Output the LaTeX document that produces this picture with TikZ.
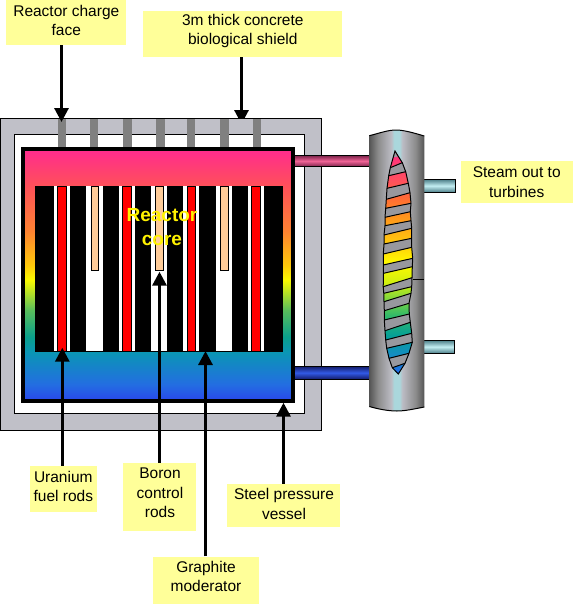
\documentclass[tikz,border=0pt]{standalone}
\usepackage{fontspec}
\setmainfont{Liberation Sans}
\usetikzlibrary{arrows.meta}
\definecolor{labelbg}{RGB}{255,255,153}
\definecolor{shieldgray}{RGB}{192,192,200}
\definecolor{tubegray}{RGB}{128,128,128}
\definecolor{bandgray}{RGB}{152,152,158}
\definecolor{rodpeach}{RGB}{255,204,153}
\definecolor{pinkedge}{RGB}{125,35,75}
\definecolor{pinkmid}{RGB}{240,100,150}
\definecolor{blueedge}{RGB}{20,30,110}
\definecolor{bluemid}{RGB}{50,90,230}
\definecolor{cyanedge}{RGB}{80,130,140}
\definecolor{cyanmid}{RGB}{195,238,242}
% vertical shadings: path box spans 25bp (bottom) .. 75bp (top)
\pgfdeclareverticalshading{vesselgrad}{100bp}{
 color(0bp)=(rgb,255:red,40;green,75;blue,235);
 color(25bp)=(rgb,255:red,40;green,75;blue,235);
 color(28bp)=(rgb,255:red,35;green,110;blue,225);
 color(34.5bp)=(rgb,255:red,10;green,150;blue,180);
 color(37.5bp)=(rgb,255:red,10;green,160;blue,140);
 color(43bp)=(rgb,255:red,90;green,190;blue,90);
 color(49bp)=(rgb,255:red,250;green,250;blue,0);
 color(52bp)=(rgb,255:red,255;green,200;blue,10);
 color(59bp)=(rgb,255:red,255;green,130;blue,50);
 color(68bp)=(rgb,255:red,255;green,80;blue,90);
 color(75bp)=(rgb,255:red,255;green,45;blue,140);
 color(100bp)=(rgb,255:red,255;green,45;blue,140)}
\pgfdeclareverticalshading{spindlegrad}{100bp}{
 color(0bp)=(rgb,255:red,30;green,105;blue,235);
 color(25bp)=(rgb,255:red,30;green,105;blue,235);
 color(29.3bp)=(rgb,255:red,20;green,140;blue,195);
 color(33.7bp)=(rgb,255:red,5;green,160;blue,150);
 color(38.2bp)=(rgb,255:red,50;green,185;blue,105);
 color(42bp)=(rgb,255:red,130;green,215;blue,60);
 color(45.6bp)=(rgb,255:red,210;green,240;blue,15);
 color(50bp)=(rgb,255:red,255;green,250;blue,0);
 color(55bp)=(rgb,255:red,255;green,195;blue,15);
 color(60.6bp)=(rgb,255:red,255;green,145;blue,30);
 color(64.7bp)=(rgb,255:red,255;green,105;blue,55);
 color(68.5bp)=(rgb,255:red,255;green,80;blue,95);
 color(75bp)=(rgb,255:red,255;green,45;blue,130);
 color(100bp)=(rgb,255:red,255;green,45;blue,130)}
\pgfdeclarehorizontalshading{bodygrad}{100bp}{
 color(0bp)=(rgb,255:red,85;green,85;blue,85);
 color(25bp)=(rgb,255:red,85;green,85;blue,85);
 color(33bp)=(rgb,255:red,140;green,140;blue,140);
 color(45bp)=(rgb,255:red,188;green,188;blue,196);
 color(47.5bp)=(rgb,255:red,170;green,215;blue,220);
 color(52.5bp)=(rgb,255:red,170;green,215;blue,220);
 color(55bp)=(rgb,255:red,188;green,188;blue,196);
 color(67bp)=(rgb,255:red,140;green,140;blue,140);
 color(75bp)=(rgb,255:red,85;green,85;blue,85);
 color(100bp)=(rgb,255:red,85;green,85;blue,85)}
\tikzset{
 thinline/.style={line width=1pt,draw=black},
 labelbox/.style={fill=labelbg,draw=none,inner sep=0pt,minimum width=#1},
 labeltext/.style={align=center,inner sep=0pt,font=\fontsize{15.5}{19.5}\selectfont},
 ptr/.style={line width=3pt,-{Triangle[length=14pt,width=14pt]}},
 tube/.style={fill=tubegray,draw=none},
 gap/.style={fill=white,draw=none},
 fuelrod/.style={fill=red,thinline},
 ctrlrod/.style={fill=rodpeach,thinline},
 pipe/.style={thinline},
 bandline/.style={thinline},
}
\begin{document}
\begin{tikzpicture}[x=1pt,y=-1pt]
\useasboundingbox[fill=white] (0,0) rectangle (575,606);
% label boxes
\node[labelbox=120pt,minimum height=45pt] (chargebox) at (66,22.5) {};
\node[labelbox=199pt,minimum height=46pt] (shieldbox) at (242.5,34) {};
\node[labelbox=67pt,minimum height=46pt] (uraniumbox) at (63.5,489) {};
\node[labelbox=73pt,minimum height=68pt] (boronbox) at (159.5,496.7) {};
\node[labelbox=113pt,minimum height=42.7pt] (steelbox) at (283.5,505.5) {};
\node[labelbox=106pt,minimum height=47.3pt] (graphitebox) at (206,580.3) {};
\node[labelbox=112pt,minimum height=41.7pt] (steambox) at (517,182) {};
% arrow ends
\coordinate (chargeEnd) at (61.5,122);
\coordinate (shieldEnd) at (241.5,124);
\coordinate (uraniumEnd) at (62.3,347.7);
\coordinate (boronEnd) at (159.5,271.7);
\coordinate (graphiteEnd) at (205.5,351);
\coordinate (steelEnd) at (283.5,402.7);
% shield arrow lies behind the shield
\draw[ptr] (shieldbox.south -| shieldEnd) -- (shieldEnd);
% biological shield
\draw[thinline,fill=shieldgray] (0,118.5) rectangle (321.5,430);
\draw[thinline,fill=white] (14.5,134.5) rectangle (304.5,413.5);
% charge tubes
\foreach \a/\b in {57.5/65.5,89.5/97.5,122.5/131.5,155.5/164.5,186.5/194.5,219.5/228.5,252.5/260.5}
 \fill[tube] (\a,118.5) rectangle (\b,147);
% pipes
\draw[pipe,top color=pinkedge,bottom color=pinkedge,middle color=pinkmid] (293,155.5) rectangle (371,166.5);
\draw[pipe,top color=blueedge,bottom color=blueedge,middle color=bluemid] (293,366.5) rectangle (371,379);
\draw[pipe,top color=cyanedge,bottom color=cyanedge,middle color=cyanmid] (420,179.5) rectangle (455.5,192);
\draw[pipe,top color=cyanedge,bottom color=cyanedge,middle color=cyanmid] (420,340.5) rectangle (454.5,353);
% pressure vessel
\shade[shading=vesselgrad] (25,151) rectangle (291,399);
\draw[line width=4pt,draw=black] (23,149) rectangle (293,401);
% reactor core
\fill[black] (35,186) rectangle (283,351.5);
\foreach \a/\b in {54/70,119/135,183/199,248/264,86/103,151/167,216/232}
 \fill[gap] (\a,186) rectangle (\b,351.5);
\foreach \a/\b in {57.5/66,122.5/131,187.5/195.5,251.5/260}
 \draw[fuelrod] (\a,186) rectangle (\b,351.5);
\foreach \a/\b in {91.5/98.5,155.5/163.5,220.5/228.5}
 \draw[ctrlrod] (\a,186) rectangle (\b,270.5);
\draw[thinline] (35,351.5) -- (283,351.5);
% steam generator
\shade[shading=bodygrad] (369.3,135.7) .. controls (380,133) and (388,130) .. (396,130) .. controls (404,130) and (414,133) .. (424.3,136) -- (424.3,407) .. controls (414,409) and (405,411) .. (397,411) .. controls (388,411) and (378,409) .. (369.3,406.5) -- cycle;
\draw[thinline] (369.3,135.7) .. controls (380,133) and (388,130) .. (396,130) .. controls (404,130) and (414,133) .. (424.3,136);
\draw[thinline] (424.3,407) .. controls (414,409) and (405,411) .. (397,411) .. controls (388,411) and (378,409) .. (369.3,406.5);
\draw[thinline] (412.7,279) -- (424.3,279);
% spindle
\coordinate (T) at (395,151);
\coordinate (B) at (398.3,374);
\foreach \i/\lx/\ly/\rx/\ry in {
 1/390.3/167.7/402.3/162.7, 2/388.7/175.7/405.7/171.7, 3/387/188.3/408.3/183.3,
 4/386.3/199.3/410/192.7, 5/385.7/208.3/411/203.3, 6/385/217.3/410.3/211.7,
 7/385/225.7/411/220.7, 8/384/235/411.7/228.3, 9/384/244/411.7/238.3,
 10/383.3/254/411.7/247.3, 11/383.3/265/412.7/258.3, 12/383.5/273.3/412.3/266.7,
 13/383.2/286.7/412/277.7, 14/383.8/293.3/411.7/286.7, 15/384/301.7/411/293.3,
 16/384.3/310.7/409/303.3, 17/384.3/320/409.3/314, 18/385/330.7/410.3/322.3,
 19/385.7/340/411.7/333.3, 20/386.7/348.3/412.3/342.3, 21/389/358.3/409/353.3,
 22/392.3/367.7/405/363.3}{
 \coordinate (L\i) at (\lx,\ly);
 \coordinate (R\i) at (\rx,\ry);
}
\shade[shading=spindlegrad] (T) \foreach \i in {1,...,22}{ -- (R\i)} -- (B) \foreach \i in {22,21,...,1}{ -- (L\i)} -- cycle;
\foreach \a/\b in {1/2,3/4,5/6,7/8,9/10,11/12,13/14,15/16,17/18,19/20,21/22}
 \fill[bandgray] (L\a) -- (R\a) -- (R\b) -- (L\b) -- cycle;
\fill[bandgray] (T) -- ++(-2.5,6) -- ++(5,0) -- cycle;
\foreach \i in {1,...,22}
 \draw[bandline] (L\i) -- (R\i);
\draw[thinline] (T) \foreach \i in {1,...,22}{ -- (R\i)} -- (B) \foreach \i in {22,21,...,1}{ -- (L\i)} -- cycle;
% pointers
\draw[ptr] (chargebox.south -| chargeEnd) -- (chargeEnd);
\draw[ptr] (uraniumbox.north -| uraniumEnd) -- (uraniumEnd);
\draw[ptr] (boronbox.north -| boronEnd) -- (boronEnd);
\draw[ptr] (graphitebox.north -| graphiteEnd) -- (graphiteEnd);
\draw[ptr] (steelbox.north -| steelEnd) -- (steelEnd);
% texts
\node[labeltext] (chargetxt) at (66.3,20.5) {Reactor charge\\face};
\node[labeltext] (shieldtxt) at (242.8,31) {3m thick concrete\\biological shield};
\node[labeltext] (uraniumtxt) at (63.3,486.5) {Uranium\\fuel rods};
\node[labeltext] (borontxt) at (160,493) {Boron\\control\\rods};
\node[labeltext] (steeltxt) at (284,504) {Steel pressure\\vessel};
\node[labeltext] (graphitetxt) at (206,576.5) {Graphite\\moderator};
\node[labeltext] (steamtxt) at (516.7,182) {Steam out to\\turbines};
\node[align=center,inner sep=0pt,text=yellow,font=\fontsize{19}{24}\selectfont\bfseries] (coretxt) at (162,227) {Reactor\\core};
\end{tikzpicture}
\end{document}
